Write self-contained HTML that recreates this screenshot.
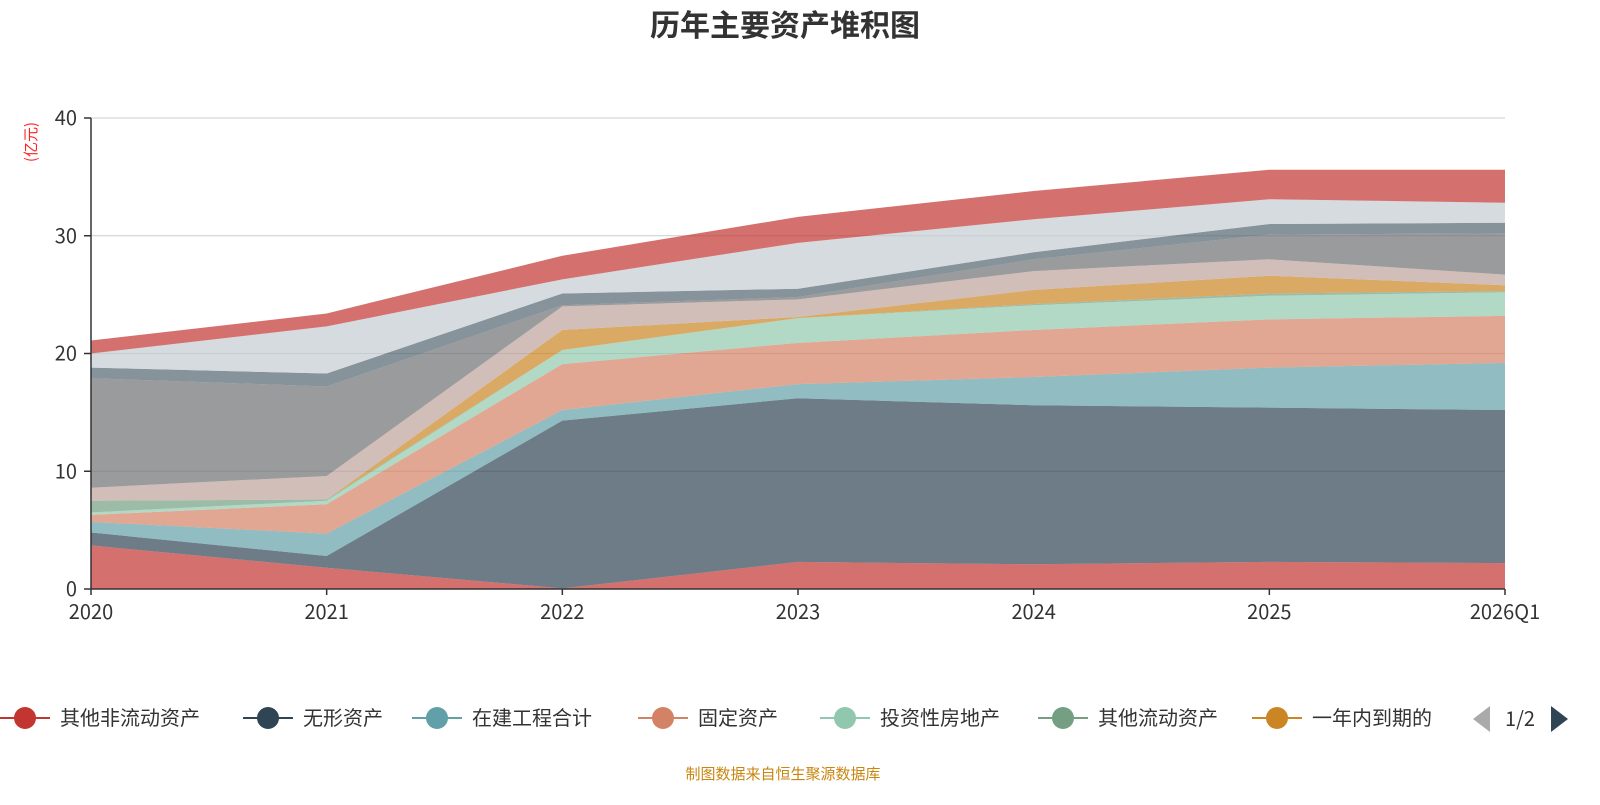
<!DOCTYPE html>
<html><head><meta charset="utf-8"><style>
html,body{margin:0;padding:0;background:#fff;}
body{width:1600px;height:800px;overflow:hidden;font-family:"Noto Sans CJK SC","Liberation Sans",sans-serif;}
</style></head><body>
<svg id="chart" width="1600" height="800" xmlns="http://www.w3.org/2000/svg" font-family="Noto Sans CJK SC, Liberation Sans, sans-serif">
<text x="785" y="36" text-anchor="middle" font-size="30" font-weight="bold" fill="#333">历年主要资产堆积图</text>
<text transform="translate(36,142) rotate(-90)" text-anchor="middle" font-size="15" fill="#ff2020">(亿元)</text>
<g id="grid"></g>
<g id="areas"></g>
<g id="axes"></g>
<g id="legend"></g>
<text x="783" y="779" text-anchor="middle" font-size="15" fill="#c8860f">制图数据来自恒生聚源数据库</text>
</svg>
<script>
const categories = ["2020","2021","2022","2023","2024","2025","2026Q1"];
const yTicks = [0,10,20,30,40];
const seriesNames = ["其他非流动资产","无形资产","在建工程合计","固定资产","投资性房地产","其他流动资产","一年内到期的","使用权资产","长期股权投资","递延所得税资产","商誉","其他"];
const seriesColors = ["#c23531","#2f4554","#61a0a8","#d48265","#91c7ae","#749f83","#ca8622","#bda29a","#6e7074","#546570","#c4ccd3","#c23531"];
const s0 = [3.7,1.8,0.05,2.3,2.1,2.3,2.2];
const s1 = [1.1,1.0,14.25,13.9,13.5,13.1,13.0];
const s2 = [0.9,1.9,0.9,1.2,2.4,3.4,4.0];
const s3 = [0.6,2.5,3.9,3.5,4.0,4.1,4.0];
const s4 = [0.2,0.3,1.2,2.1,2.1,2.0,2.0];
const s5 = [1.0,0.1,0,0,0.1,0.2,0.1];
const s6 = [0,0,1.7,0.1,1.2,1.5,0.5];
const s7 = [1.1,2.0,2.0,1.5,1.6,1.4,0.9];
const s8 = [9.3,7.6,0.1,0.2,1.0,2.1,3.5];
const s9 = [0.9,1.1,1.0,0.7,0.6,0.9,0.9];
const s10 = [1.2,4.0,1.2,3.9,2.8,2.1,1.7];
const s11 = [1.1,1.1,2.0,2.2,2.4,2.5,2.8];
const series = [s0,s1,s2,s3,s4,s5,s6,s7,s8,s9,s10,s11];

const NS="http://www.w3.org/2000/svg";
const X0=91,X1=1505,Y0=589,Y1=118,YMAX=40;
const xs=i=>X0+(X1-X0)*i/(categories.length-1);
const ys=v=>Y0-(Y0-Y1)*v/YMAX;
function mk(tag,attrs,parent){const e=document.createElementNS(NS,tag);for(const k in attrs)e.setAttribute(k,attrs[k]);parent.appendChild(e);return e;}
const grid=document.getElementById('grid'),areas=document.getElementById('areas'),axes=document.getElementById('axes'),legend=document.getElementById('legend');

yTicks.forEach(t=>{
  if(t>0){const l=mk('line',{x1:X0,x2:X1,y1:ys(t),y2:ys(t),stroke:'#ccc','stroke-width':1},grid);
  
  }
  const tk=mk('line',{x1:X0-7,x2:X0,y1:ys(t),y2:ys(t),stroke:'#333','stroke-width':1.5},axes);
  
  
  const tx=mk('text',{x:X0-14,y:ys(t)+7,'text-anchor':'end','font-size':20,fill:'#333'},axes);
  tx.textContent=t;
  
  
});

let base=categories.map(()=>0);
series.forEach((s,si)=>{
  const top=base.map((b,i)=>b+s[i]);
  let d='M'+categories.map((c,i)=>xs(i)+','+ys(top[i])).join(' L');
  for(let i=categories.length-1;i>=0;i--)d+=' L'+xs(i)+','+ys(base[i]);
  d+=' Z';
  const p=mk('path',{d:d,fill:seriesColors[si],'fill-opacity':0.7,stroke:'none'},areas);
  
  
  base=top;
});

const ax=mk('line',{x1:X0,x2:X1,y1:Y0,y2:Y0,stroke:'#333','stroke-width':1.5},axes);


const ay=mk('line',{x1:X0,x2:X0,y1:Y1,y2:Y0,stroke:'#333','stroke-width':1.5},axes);


categories.forEach((c,i)=>{
  const tk=mk('line',{x1:xs(i),x2:xs(i),y1:Y0,y2:Y0+6,stroke:'#333','stroke-width':1.5},axes);
  
  
  const tx=mk('text',{x:xs(i),y:619,'text-anchor':'middle','font-size':20,fill:'#333'},axes);
  tx.textContent=c;
  
  
});

const legX=[25,268,437,663,845,1063,1277];
for(let i=0;i<7;i++){
  const g=mk('g',{},legend);
  
  
  const cx=legX[i];
  mk('line',{x1:cx-25,x2:cx+25,y1:718,y2:718,stroke:seriesColors[i],'stroke-width':2},g);
  mk('circle',{cx:cx,cy:718,r:11,fill:seriesColors[i]},g);
  const t=mk('text',{x:cx+35,y:725,'font-size':20,fill:'#333'},g);
  t.textContent=seriesNames[i];
}
const pl=mk('path',{d:'M1490,706 L1490,732 L1473,719 Z',fill:'#aaa'},legend);


const pt=mk('text',{x:1520,y:726,'text-anchor':'middle','font-size':20,fill:'#333'},legend);
pt.textContent='1/2';


const pn=mk('path',{d:'M1551,706 L1551,732 L1568,719 Z',fill:'#2f4554'},legend);


</script>
</body></html>
